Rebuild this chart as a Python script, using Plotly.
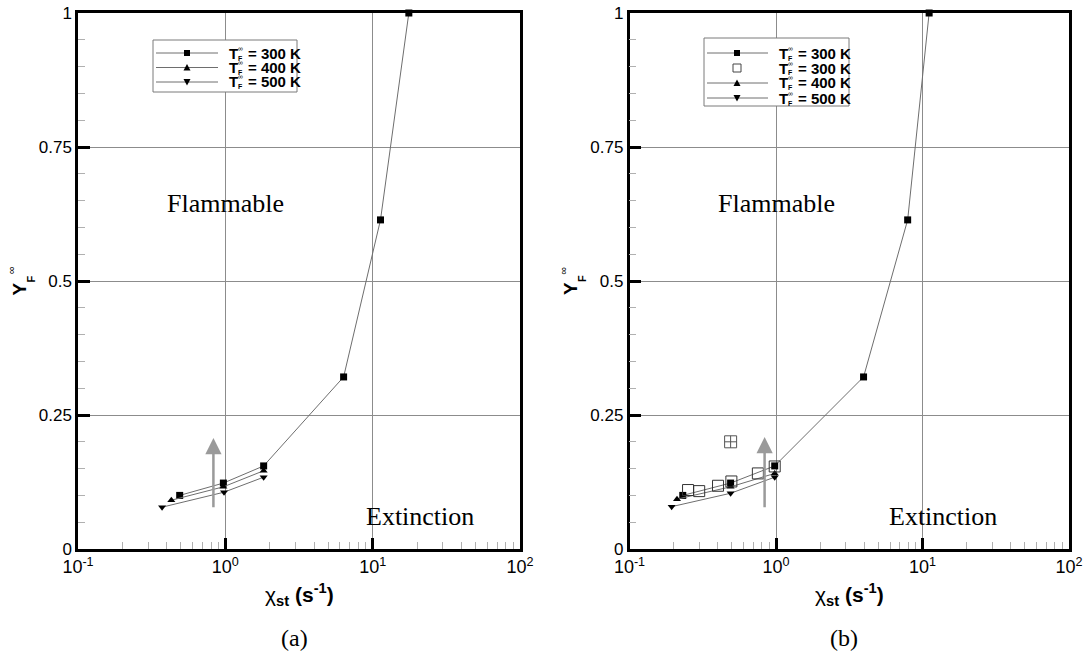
import math
import plotly.graph_objects as go

W, H = 1089, 659

# ---------------- data ----------------
# panel (a)
a_x_300 = [0.49, 0.97, 1.82, 6.35, 11.3, 17.6]
a_y_300 = [0.100, 0.123, 0.155, 0.321, 0.614, 1.000]
a_x_400 = [0.43, 0.97, 1.82]
a_y_400 = [0.091, 0.116, 0.146]
a_x_500 = [0.372, 0.98, 1.82]
a_y_500 = [0.078, 0.106, 0.134]

# panel (b)
b_x_300 = [0.231, 0.49, 0.98, 3.96, 7.92, 11.1]
b_y_300 = [0.100, 0.123, 0.155, 0.321, 0.614, 1.000]
b_x_exp = [0.251, 0.299, 0.402, 0.496, 0.752, 0.98]
b_y_exp = [0.110, 0.108, 0.118, 0.126, 0.141, 0.154]
b_x_400 = [0.211, 0.49, 0.98]
b_y_400 = [0.093, 0.116, 0.141]
b_x_500 = [0.194, 0.49, 0.98]
b_y_500 = [0.079, 0.104, 0.134]
b_x_single = [0.49]
b_y_single = [0.20]

# arrows (x, y_tail, y_tip)
a_arrow = (0.83, 0.075, 0.207)
b_arrow = (0.836, 0.075, 0.209)

x_tick_vals = [0.1, 1, 10, 100]
x_tick_text = ["10<sup>-1</sup>", "10<sup>0</sup>", "10<sup>1</sup>", "10<sup>2</sup>"]
y_tick_vals = [0, 0.25, 0.5, 0.75, 1]
y_tick_text = ["0", "0.25", "0.5", "0.75", "1"]
legend_labels_a = ["300 K", "400 K", "500 K"]
legend_labels_b = ["300 K", "300 K", "400 K", "500 K"]

# ---------------- helpers ----------------
def PX(x):
    return x / W

def PY(y):
    return 1 - y / H

SANS = "Liberation Sans"
SERIF = "Liberation Serif"
LINE = "#6e6e6e"

fig = go.Figure()

def line_trace(x, y, symbol, size, xa, ya):
    fig.add_trace(go.Scatter(
        x=x, y=y, mode="lines+markers", xaxis=xa, yaxis=ya,
        line=dict(color=LINE, width=1),
        marker=dict(symbol=symbol, size=size, color="black", line=dict(width=0)),
        cliponaxis=False, showlegend=False, hoverinfo="skip"))

line_trace(a_x_300, a_y_300, "square", 7, "x", "y")
line_trace(a_x_400, a_y_400, "triangle-up", 7, "x", "y")
line_trace(a_x_500, a_y_500, "triangle-down", 7, "x", "y")

line_trace(b_x_300, b_y_300, "square", 7, "x2", "y2")
line_trace(b_x_400, b_y_400, "triangle-up", 7, "x2", "y2")
line_trace(b_x_500, b_y_500, "triangle-down", 7, "x2", "y2")
fig.add_trace(go.Scatter(
    x=b_x_exp, y=b_y_exp, mode="markers", xaxis="x2", yaxis="y2",
    marker=dict(symbol="square-open", size=11, color="#333", line=dict(width=1)),
    showlegend=False, hoverinfo="skip"))
fig.add_trace(go.Scatter(
    x=b_x_single, y=b_y_single, mode="markers", xaxis="x2", yaxis="y2",
    marker=dict(symbol="square-cross-open", size=12, color="#555", line=dict(width=1)),
    showlegend=False, hoverinfo="skip"))

# ---------------- axes ----------------
minor_vals = [k * 10 ** e for e in (-1, 0, 1) for k in range(2, 10)]
xdom_a = [PX(78), PX(520)]
xdom_b = [PX(629.5), PX(1069)]
ydom = [PY(549), PY(13)]

def xaxis(dom, anchor):
    return dict(
        domain=dom, anchor=anchor, type="log", range=[-1, 2],
        automargin=False,
        tickmode="array", tickvals=x_tick_vals, ticktext=x_tick_text,
        ticks="inside", ticklen=11, tickwidth=3, tickcolor="black",
        showline=True, linewidth=2.5, linecolor="black", mirror=True,
        showgrid=True, gridcolor="#8c8c8c", gridwidth=1,
        zeroline=False,
        minor=dict(tickvals=minor_vals, ticks="inside", ticklen=7,
                   tickcolor="#b0b0b0", tickwidth=1, showgrid=False),
        tickfont=dict(family=SANS, size=18, color="black"),
    )

def yaxis(dom, anchor):
    return dict(
        domain=dom, anchor=anchor, range=[0, 1],
        automargin=False,
        tickmode="array", tickvals=y_tick_vals, ticktext=y_tick_text,
        ticks="inside", ticklen=12, tickwidth=3, tickcolor="black",
        showline=True, linewidth=2.5, linecolor="black", mirror=True,
        showgrid=True, gridcolor="#8c8c8c", gridwidth=1,
        zeroline=False,
        minor=dict(dtick=0.05, ticks="inside", ticklen=7,
                   tickcolor="#b0b0b0", tickwidth=1, showgrid=False),
        tickfont=dict(family=SANS, size=17, color="black"),
    )

annotations = []
shapes = []

# ---------------- arrows ----------------
for (ax_, t0, t1), xr, yr in ((a_arrow, "x", "y"), (b_arrow, "x2", "y2")):
    lx = math.log10(ax_)
    annotations.append(dict(
        x=lx, y=t1, ax=lx, ay=t0, xref=xr, yref=yr, axref=xr, ayref=yr,
        text="", showarrow=True, arrowhead=2, arrowsize=1.3, arrowwidth=2.5,
        arrowcolor="#9a9a9a", standoff=0, startstandoff=0))

# ---------------- region labels ----------------
for xr, yr, fx, ex in (("x", "y", 1.0, 20.9), ("x2", "y2", 1.0, 13.8)):
    annotations.append(dict(x=math.log10(fx), y=0.645, xref=xr, yref=yr,
                            xanchor="center", yanchor="middle",
                            text="Flammable", showarrow=False,
                            font=dict(family=SERIF, size=26, color="black")))
    annotations.append(dict(x=math.log10(ex), y=0.06, xref=xr, yref=yr,
                            xanchor="center", yanchor="middle",
                            text="Extinction", showarrow=False,
                            font=dict(family=SERIF, size=26, color="black")))

# ---------------- axis titles / panel labels ----------------
def pa(x, y, text, size, family=SANS, angle=0):
    annotations.append(dict(
        x=PX(x), y=PY(y), xref="paper", yref="paper", showarrow=False,
        xanchor="center", yanchor="middle", text=text, textangle=angle,
        borderpad=0, font=dict(family=family, size=size, color="black")))

for dx, cx, lab in ((0, 299, "(a)"), (551.5, 849, "(b)")):
    pa(cx, 594, "χ<sub><b>st</b></sub> <b>(s<sup>-1</sup>)</b>", 21)
    pa(cx - 5, 638, lab, 24, SERIF)
    # Y_F^inf rotated
    pa(18.5 + dx, 289, "<b>Y</b>", 19, angle=-90)
    pa(30.5 + dx, 279, "<b>F</b>", 11, angle=-90)
    pa(11 + dx, 270, "∞", 11, angle=-90)

# ---------------- manual legends ----------------
def legend(box, rows, line_x0, line_x1, mark_x, text_x, entries):
    x0, y0, x1, y1 = box
    shapes.append(dict(type="rect", xref="paper", yref="paper",
                       x0=PX(x0), x1=PX(x1), y0=PY(y0), y1=PY(y1),
                       line=dict(color="#7a7a7a", width=1), fillcolor="white",
                       layer="above"))
    for ry, (kind, label) in zip(rows, entries):
        if kind != "open":
            shapes.append(dict(type="line", xref="paper", yref="paper",
                               x0=PX(line_x0), x1=PX(line_x1), y0=PY(ry), y1=PY(ry),
                               line=dict(color=LINE, width=1), layer="above"))
        if kind == "square":
            shapes.append(dict(type="rect", xref="paper", yref="paper",
                               x0=PX(mark_x - 3), x1=PX(mark_x + 3),
                               y0=PY(ry + 3), y1=PY(ry - 3),
                               fillcolor="black", line=dict(width=0), layer="above"))
        elif kind == "open":
            shapes.append(dict(type="rect", xref="paper", yref="paper",
                               x0=PX(mark_x - 4), x1=PX(mark_x + 4),
                               y0=PY(ry + 4), y1=PY(ry - 4),
                               fillcolor="rgba(0,0,0,0)",
                               line=dict(color="#444", width=1), layer="above"))
        elif kind == "up":
            shapes.append(dict(type="path", xref="paper", yref="paper",
                               path=f"M {PX(mark_x-3.5)},{PY(ry+3)} L {PX(mark_x+3.5)},{PY(ry+3)} L {PX(mark_x)},{PY(ry-3.5)} Z",
                               fillcolor="black", line=dict(width=0), layer="above"))
        elif kind == "down":
            shapes.append(dict(type="path", xref="paper", yref="paper",
                               path=f"M {PX(mark_x-3.5)},{PY(ry-3)} L {PX(mark_x+3.5)},{PY(ry-3)} L {PX(mark_x)},{PY(ry+3.5)} Z",
                               fillcolor="black", line=dict(width=0), layer="above"))
        annotations.append(dict(x=PX(text_x), y=PY(ry), xref="paper", yref="paper",
                                xanchor="left", yanchor="middle", showarrow=False,
                                text="<b>T</b>", borderpad=0,
                                font=dict(family=SANS, size=15, color="black")))
        annotations.append(dict(x=PX(text_x + 9), y=PY(ry + 5), xref="paper", yref="paper",
                                xanchor="left", yanchor="middle", showarrow=False,
                                text="<b>F</b>", borderpad=0,
                                font=dict(family=SANS, size=7, color="black")))
        annotations.append(dict(x=PX(text_x + 9), y=PY(ry - 5), xref="paper", yref="paper",
                                xanchor="left", yanchor="middle", showarrow=False,
                                text="∞", borderpad=0,
                                font=dict(family=SANS, size=7, color="black")))
        annotations.append(dict(x=PX(text_x + 19), y=PY(ry), xref="paper", yref="paper",
                                xanchor="left", yanchor="middle", showarrow=False,
                                text="<b>= " + label + "</b>", borderpad=0,
                                font=dict(family=SANS, size=15, color="black")))

legend((153, 40, 297, 92), [53, 67.5, 82], 156, 218, 187, 228,
       list(zip(["square", "up", "down"], legend_labels_a)))
legend((704, 38, 849, 106), [53, 68, 83, 98], 707, 768, 737, 778,
       list(zip(["square", "open", "up", "down"], legend_labels_b)))

fig.update_layout(
    width=W, height=H,
    margin=dict(l=0, r=0, t=0, b=0),
    paper_bgcolor="white", plot_bgcolor="white",
    xaxis=xaxis(xdom_a, "y"), yaxis=yaxis(ydom, "x"),
    xaxis2=xaxis(xdom_b, "y2"), yaxis2=yaxis(ydom, "x2"),
    annotations=annotations, shapes=shapes,
    showlegend=False,
)

fig.write_html("out.html")
